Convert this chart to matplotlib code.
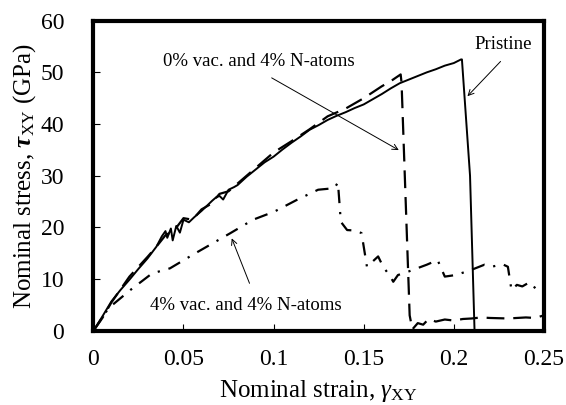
import numpy as np
import matplotlib
matplotlib.use('Agg')
import matplotlib.pyplot as plt

plt.rcParams['font.family'] = 'Liberation Serif'
plt.rcParams['mathtext.fontset'] = 'custom'
plt.rcParams['mathtext.rm'] = 'Liberation Serif'
plt.rcParams['mathtext.it'] = 'Liberation Serif:italic'
plt.rcParams['mathtext.bf'] = 'Liberation Serif:bold:italic'

# Pristine
strain_p = [0, 0.005, 0.01, 0.015, 0.02, 0.025, 0.03, 0.035, 0.038, 0.04, 0.041, 0.043,
            0.044, 0.046, 0.048, 0.05, 0.053, 0.056, 0.06, 0.063, 0.066, 0.068, 0.07,
            0.072, 0.075, 0.078, 0.08, 0.085, 0.09, 0.095, 0.1, 0.105, 0.11, 0.115, 0.12,
            0.125, 0.13, 0.135, 0.14, 0.145, 0.15, 0.155, 0.16, 0.165, 0.17, 0.175, 0.18,
            0.185, 0.19, 0.195, 0.2, 0.204, 0.2045, 0.209, 0.2115]
stress_p = [0, 2.8, 5.7, 7.9, 9.9, 12, 14, 16.3, 18.3, 19.3, 18, 19.8, 17.5, 20.3, 19,
            21.5, 21, 22, 23.2, 24.2, 25.2, 25.8, 26.1, 25.4, 27.3, 27.8, 28.2, 29.8,
            31.2, 32.6, 33.7, 35.1, 36.4, 37.6, 38.9, 39.8, 40.8, 41.6, 42.3, 43.1, 43.8,
            44.8, 45.8, 46.9, 47.9, 48.6, 49.3, 50, 50.6, 51.3, 51.8, 52.5, 52.5, 30, 0]

# 0% vac. and 4% N-atoms
strain_d = [0, 0.005, 0.01, 0.02, 0.03, 0.035, 0.04, 0.045, 0.05, 0.055, 0.06, 0.065,
            0.07, 0.075, 0.08, 0.09, 0.1, 0.11, 0.12, 0.13, 0.14, 0.15, 0.16, 0.165,
            0.1705, 0.171, 0.1755, 0.177, 0.18, 0.183, 0.186, 0.19, 0.195, 0.2, 0.205,
            0.21, 0.215, 0.22, 0.23, 0.24, 0.245, 0.25]
stress_d = [0, 2.5, 5.5, 10.5, 14.3, 16.3, 18.5, 19.5, 21.8, 21.5, 23.5, 24.5, 26.5,
            27, 28.5, 31.5, 34.5, 36.7, 39, 41.5, 43, 45, 47.3, 48.3, 49.6, 48, 3, 0.3,
            1.5, 1.2, 2.3, 1.8, 2.2, 2.0, 2.3, 2.4, 2.6, 2.5, 2.4, 2.6, 2.5, 3.0]

# 4% vac. and 4% N-atoms
strain_v = [0, 0.0084, 0.0205, 0.0325, 0.0425, 0.0565, 0.076, 0.0886, 0.1006, 0.1127,
            0.1247, 0.1337, 0.1357, 0.1373, 0.1408, 0.1458, 0.1488, 0.1518, 0.158,
            0.1608, 0.1648, 0.1664, 0.169, 0.175, 0.185, 0.191, 0.195, 0.201, 0.209,
            0.217, 0.221, 0.227, 0.230, 0.232, 0.235, 0.238, 0.241, 0.244, 0.249]
stress_v = [0, 4.4, 7.9, 11.1, 12.1, 15, 18.9, 21.5, 23.1, 25.3, 27.3, 27.6, 28.7,
            21.1, 19.5, 19.4, 18.9, 12.4, 14.4, 12.4, 10.5, 9.5, 10.8, 11.5, 12.8, 13.7,
            10.5, 10.8, 11.7, 12.8, 12.4, 12.9, 12.4, 7.9, 8.9, 8.6, 9.2, 8.2, 9.5]

fig = plt.figure(figsize=(5.66, 4.05), dpi=100)
ax = fig.add_axes([0.165, 0.183, 0.796, 0.766])

ax.plot(strain_p, stress_p, color='black', lw=1.4)
ax.plot(strain_d, stress_d, color='black', lw=1.6, dashes=(8, 4))
ax.plot(strain_v, stress_v, color='black', lw=1.6, dashes=(6, 4, 1, 4))

ax.set_xlim(0, 0.25)
ax.set_ylim(0, 60)
ax.set_xticks([0, 0.05, 0.1, 0.15, 0.2, 0.25])
ax.set_xticklabels(['0', '0.05', '0.1', '0.15', '0.2', '0.25'])
ax.set_yticks([0, 10, 20, 30, 40, 50, 60])
ax.tick_params(direction='in', length=5, width=0.8, labelsize=17)
ax.tick_params(axis='x', pad=13)
ax.tick_params(axis='y', pad=21)
for s in ax.spines.values():
    s.set_linewidth(3)

ax.set_xlabel(r'Nominal strain, $\mathit{\gamma}_{\rm XY}$', fontsize=18, labelpad=6)
ax.set_ylabel(r'Nominal stress, $\mathbf{\tau}_{\rm XY}$ (GPa)', fontsize=18, labelpad=2)

arrow = dict(arrowstyle='->', color='black', lw=0.7)
ax.text(0.0918, 52.1, '0% vac. and 4% N-atoms', fontsize=13.5, ha='center', va='center')
ax.annotate('', xy=(0.1708, 34.7), xytext=(0.0976, 49.2), arrowprops=arrow)
ax.text(0.2274, 55.3, 'Pristine', fontsize=13.5, ha='center', va='center')
ax.annotate('', xy=(0.2065, 45), xytext=(0.227, 52.5), arrowprops=arrow)
ax.text(0.0846, 4.9, '4% vac. and 4% N-atoms', fontsize=13.5, ha='center', va='center')
ax.annotate('', xy=(0.0762, 18.4), xytext=(0.0872, 8.7), arrowprops=arrow)

fig.savefig('out.png', dpi=100)
